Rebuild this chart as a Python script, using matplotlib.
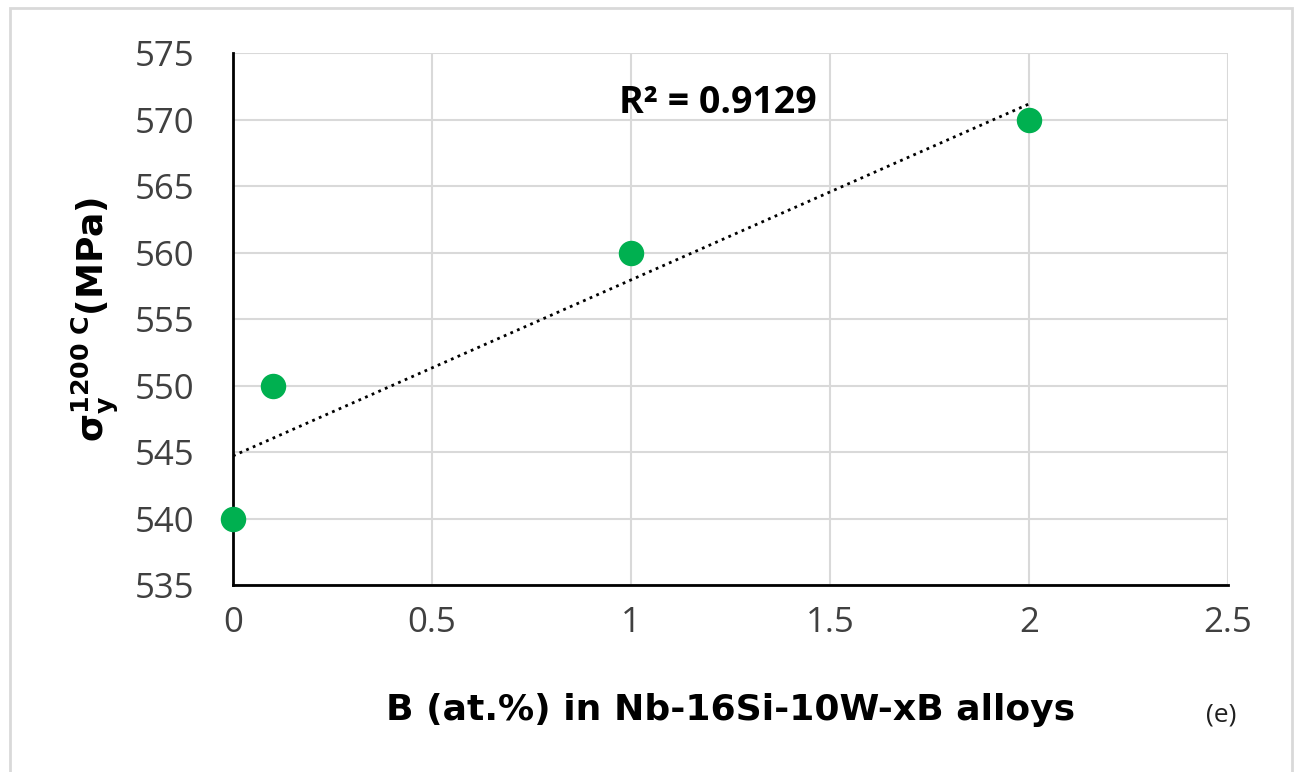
import numpy as np
import matplotlib
matplotlib.use('Agg')
import matplotlib.pyplot as plt
from matplotlib.patches import Rectangle

plt.rcParams['font.family'] = ['Open Sans', 'DejaVu Sans']
plt.rcParams['mathtext.fontset'] = 'dejavusans'

# data: B content (at.%) vs yield strength at 1200 C
b_content = [0, 0.1, 1, 2]
sigma_y = [540, 550, 560, 570]

x_ticks = [0, 0.5, 1, 1.5, 2, 2.5]
y_ticks = [535, 540, 545, 550, 555, 560, 565, 570, 575]

# linear trendline
slope, icpt = np.polyfit(b_content, sigma_y, 1)
fit = np.polyval([slope, icpt], b_content)
r2 = 1 - np.sum((np.array(sigma_y) - fit) ** 2) / np.sum((np.array(sigma_y) - np.mean(sigma_y)) ** 2)

fig = plt.figure(figsize=(13.01, 7.72), dpi=100)
fig.patches.append(Rectangle((0.008, -0.05), 0.985, 1.04, transform=fig.transFigure,
                             fill=False, edgecolor='#d9d9d9', lw=2))

ax = fig.add_axes([0.1791, 0.2416, 0.7648, 0.6891])

xs = np.array([0, 2])
ax.plot(xs, slope * xs + icpt, ls=(0, (1, 1.6)), color='black', lw=2, zorder=2)
ax.scatter(b_content, sigma_y, s=300, color='#00b050', zorder=3, clip_on=False)

ax.set_xlim(0, 2.5)
ax.set_ylim(535, 575)
ax.set_xticks(x_ticks)
ax.set_xticklabels(['0', '0.5', '1', '1.5', '2', '2.5'])
ax.set_yticks(y_ticks)
ax.grid(True, color='#d9d9d9', lw=1.5, zorder=0)
ax.set_axisbelow(True)

for s in ['top', 'right']:
    ax.spines[s].set_visible(False)
for s in ['left', 'bottom']:
    ax.spines[s].set_linewidth(2)
    ax.spines[s].set_color('black')

ax.tick_params(axis='both', length=0, labelsize=25, labelcolor='#404040')
ax.tick_params(axis='y', pad=28)
ax.tick_params(axis='x', pad=15)

ax.set_xlabel('B (at.%) in Nb-16Si-10W-xB alloys', fontsize=26, fontweight='bold',
              family='DejaVu Sans', labelpad=38)
ax.set_ylabel(r'$\mathbf{\sigma_y^{1200\ C}}$(MPa)', fontsize=26, fontweight='bold',
              family='DejaVu Sans', labelpad=10)

ax.text(0.97, 571.3, 'R² = %.4f' % r2, fontsize=27, fontweight='bold', va='center', ha='left')
fig.text(0.939, 0.074, '(e)', fontsize=19, color='#202020', ha='center', va='center')

fig.savefig('out.png', dpi=100)
